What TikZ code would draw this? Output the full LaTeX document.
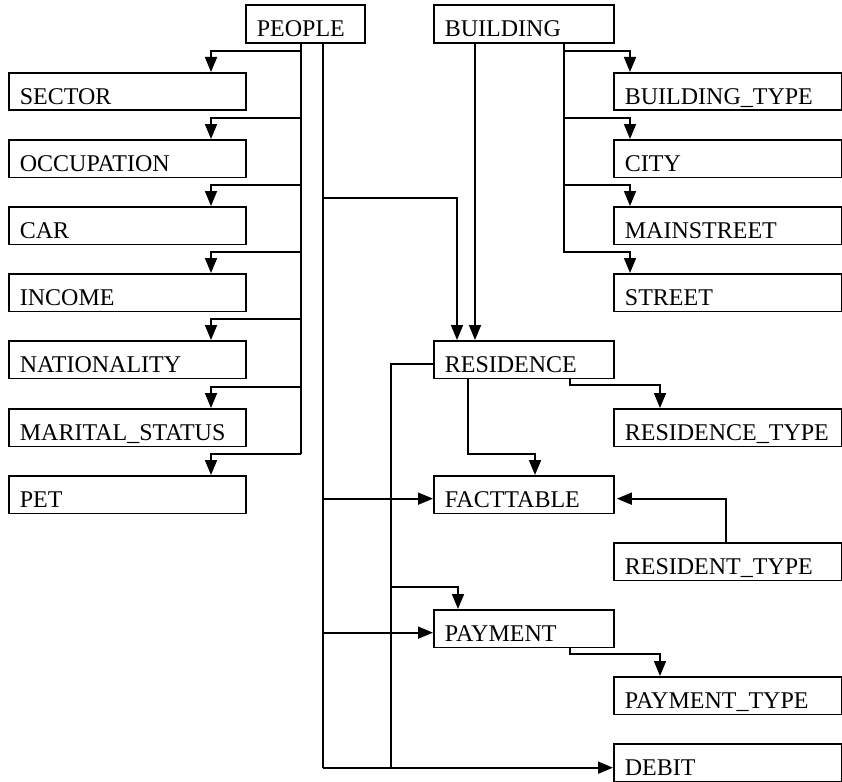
\documentclass[tikz,border=0pt]{standalone}
\usepackage{fontspec}
\setmainfont{Liberation Serif}
\usetikzlibrary{arrows.meta,calc}
\begin{document}
\begin{tikzpicture}[x=1pt,y=-1pt,
  box/.style={draw, line width=1.8pt, rectangle, anchor=north west, align=left,
    font=\fontsize{24}{28}\selectfont, inner xsep=11pt, inner ysep=2pt,
    text height=25.5pt, text depth=0pt, minimum height=37.5pt},
  lbox/.style={box, text width=215pt},
  rbox/.style={box, text width=206pt},
  mbox/.style={box, text width=158pt},
  line/.style={line width=1.7pt},
  arr/.style={line width=1.7pt, -{Triangle[width=12pt,length=15pt]}}]
\useasboundingbox (0,0) rectangle (842,781);
% top nodes
\node[box, text width=97pt, minimum height=38pt] (people) at (245,4) {PEOPLE};
\node[mbox, minimum height=38pt] (building) at (433,4) {BUILDING};
% left column
\node[lbox] (sector) at (8,72) {SECTOR};
\node[lbox] (occupation) at (8,139) {OCCUPATION};
\node[lbox] (car) at (8,206) {CAR};
\node[lbox] (income) at (8,273) {INCOME};
\node[lbox] (nationality) at (8,340) {NATIONALITY};
\node[lbox] (marital) at (8,408) {MARITAL\_STATUS};
\node[lbox] (pet) at (8,475) {PET};
% right column
\node[rbox] (btype) at (613,72) {BUILDING\_TYPE};
\node[rbox] (city) at (613,139) {CITY};
\node[rbox] (mainstreet) at (613,206) {MAINSTREET};
\node[rbox] (street) at (613,273) {STREET};
\node[rbox] (restype) at (613,408) {RESIDENCE\_TYPE};
\node[rbox] (residenttype) at (613,542) {RESIDENT\_TYPE};
\node[rbox] (paytype) at (613,676) {PAYMENT\_TYPE};
\node[rbox] (debit) at (613,743) {DEBIT};
% middle column
\node[mbox] (residence) at (433,340) {RESIDENCE};
\node[mbox] (fact) at (433,475) {FACTTABLE};
\node[mbox] (payment) at (433,609) {PAYMENT};

% PEOPLE trunk A (dimension tables on the left)
\coordinate (ta) at ($(people.south west)+(56,0)$);
\draw[line] (ta) -- ($(ta |- pet.north)+(0,-21)$);
\foreach \n in {sector,occupation,car,income,nationality,marital,pet}{
  \draw[arr] ($(ta |- \n.north)+(0,-21)$) -| ($(\n.north west)+(203,0)$);
}
% PEOPLE trunk B
\coordinate (tb) at ($(people.south west)+(78,0)$);
\draw[line] (tb) -- ($(tb |- debit.west)+(0,5)$);
\draw[arr] ($(tb |- building.south)+(0,154)$) -| ($(residence.north west)+(24,0)$);
\draw[arr] ($(tb |- fact.west)+(0,4)$) -- ($(fact.west)+(0,4)$);
\draw[arr] ($(tb |- payment.west)+(0,4)$) -- ($(payment.west)+(0,4)$);
\draw[arr] ($(tb |- debit.west)+(0,5)$) -- ($(debit.west)+(0,5)$);

% BUILDING
\draw[arr] ($(building.south west)+(42,0)$) -- ($(residence.north west)+(42,0)$);
\coordinate (tc) at ($(building.south west)+(131,0)$);
\draw[line] (tc) -- ($(tc |- street.north)+(0,-20)$);
\foreach \n in {btype,city,mainstreet,street}{
  \draw[arr] ($(tc |- \n.north)+(0,-21)$) -| ($(\n.north west)+(17,0)$);
}

% RESIDENCE
\coordinate (rt) at ($(residence.west |- debit.west)+(-42,5)$);
\draw[line] ($(residence.west)+(0,4)$) -| (rt);
\draw[arr] ($(rt |- payment.north)+(0,-22)$) -| ($(payment.north west)+(25,0)$);
\draw[arr] ($(residence.south west)+(35,0)$) |- ($(fact.north west)+(102,-21)$) -- ($(fact.north west)+(102,0)$);
\draw[arr] ($(residence.south west)+(137,0)$) |- ($(restype.north west)+(47,-23)$) -- ($(restype.north west)+(47,0)$);

% RESIDENT_TYPE -> FACTTABLE
\draw[arr] ($(residenttype.north west)+(113,0)$) |- ($(fact.east)+(2,4)$);

% PAYMENT -> PAYMENT_TYPE
\draw[arr] ($(payment.south west)+(137,0)$) |- ($(paytype.north west)+(47,-22)$) -- ($(paytype.north west)+(47,0)$);
\end{tikzpicture}
\end{document}
